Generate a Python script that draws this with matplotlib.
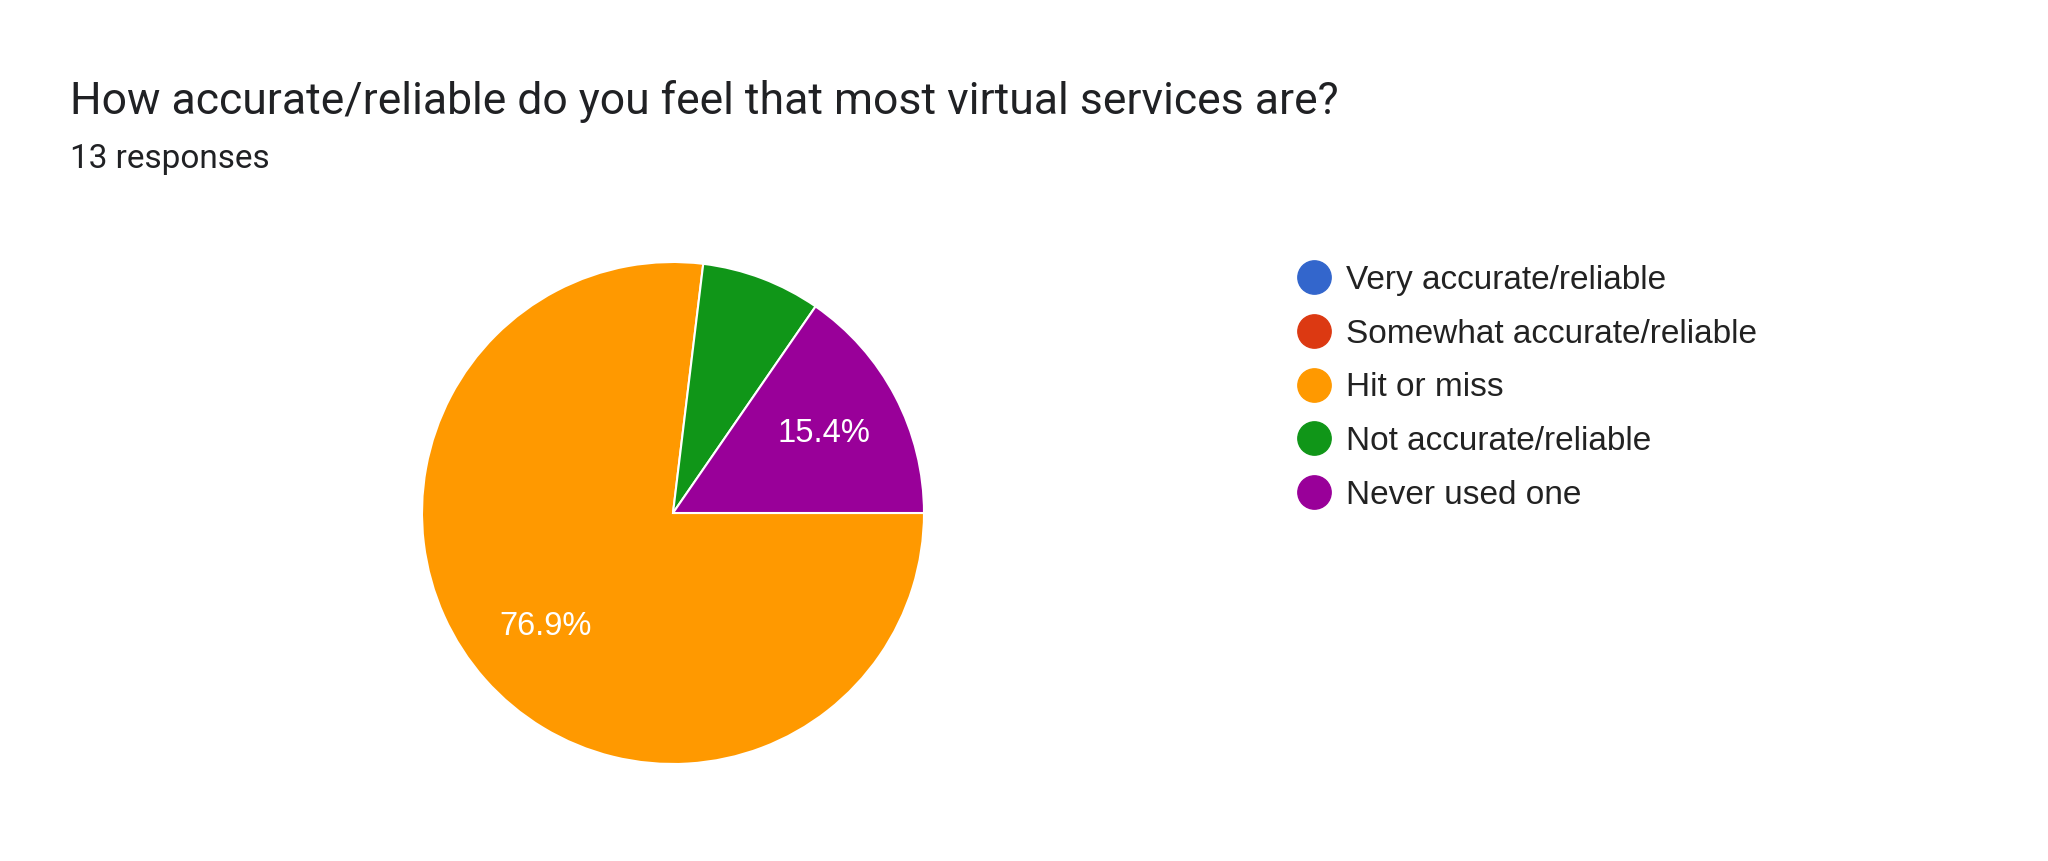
import numpy as np
import matplotlib
matplotlib.use('Agg')
import matplotlib.pyplot as plt
from matplotlib.lines import Line2D

title = "How accurate/reliable do you feel that most virtual services are?"
subtitle = "13 responses"
labels = ["Very accurate/reliable", "Somewhat accurate/reliable", "Hit or miss",
          "Not accurate/reliable", "Never used one"]
counts = [0, 0, 10, 1, 2]
colors = ["#3366cc", "#dc3912", "#ff9900", "#109618", "#990099"]

W, H = 2048, 861
fig = plt.figure(figsize=(W/100.0, H/100.0), dpi=100)
fig.patch.set_facecolor('white')

# pie centre ~ (673, 513) px, radius ~251 px
cx, cy, r = 673, 513, 251
ax = fig.add_axes([(cx - r)/W, (H - cy - r)/H, 2*r/W, 2*r/H])

def fmt(pct):
    return ('%.1f%%' % pct) if pct >= 10 else ''

wedges, texts, autotexts = ax.pie(counts, colors=colors, startangle=0, counterclock=False,
                                  autopct=fmt, pctdistance=0.68, radius=1,
                                  wedgeprops=dict(edgecolor='white', linewidth=1.5))
for t in autotexts:
    t.set_color('white')
    t.set_fontsize(23.5)
    t.set_family('Liberation Sans')
ax.set_xlim(-1, 1)
ax.set_ylim(-1, 1)
ax.set_aspect('auto')
ax.axis('off')

fig.text(70/W, 1 - 114/H, title, fontsize=32, family='Roboto', color='#202124', va='baseline')
fig.text(70/W, 1 - 168/H, subtitle, fontsize=24, family='Roboto', color='#202124', va='baseline')

handles = [Line2D([], [], marker='o', linestyle='none', markersize=24,
                  markerfacecolor=c, markeredgecolor=c) for c in colors]
leg = fig.legend(handles, labels, loc='upper left',
                 bbox_to_anchor=(1297/W, 1 - 265/H),
                 frameon=False, borderpad=0, borderaxespad=0,
                 handlelength=1.0, handletextpad=0.47, labelspacing=0.68,
                 prop={'family': 'Liberation Sans', 'size': 24})
for t in leg.get_texts():
    t.set_color('#222222')

fig.savefig('out.png', dpi=100, facecolor='white')
